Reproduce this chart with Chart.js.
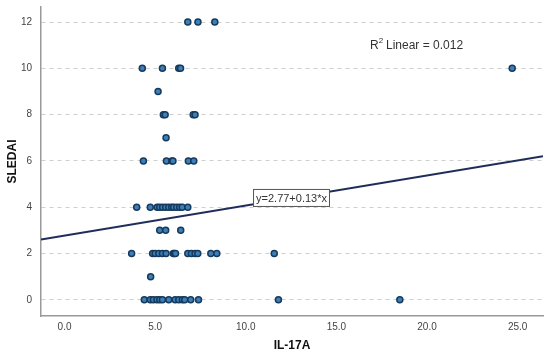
<!DOCTYPE html>
<html>
<head>
<meta charset="utf-8">
<script src="https://cdn.jsdelivr.net/npm/chart.js@4/dist/chart.umd.min.js"></script>
<style>
  html, body { margin: 0; padding: 0; background: #fff; }
  #wrap { width: 550px; height: 357px; position: relative; }
</style>
</head>
<body>
<div id="wrap"><canvas id="c"></canvas></div>
<script>
// IL-17A values grouped by SLEDAI score
const sledaiLevels = [12, 10, 9, 8, 7, 6, 4, 3, 2, 1, 0];
const il17aByLevel = [
  [6.8, 7.36, 8.29],
  [4.29, 5.4, 6.3, 6.4, 24.7],
  [5.16],
  [5.45, 5.55, 7.1, 7.2],
  [5.6],
  [4.35, 5.62, 5.92, 5.98, 6.83, 7.13],
  [3.98, 4.73, 5.11, 5.25, 5.41, 5.58, 5.75, 5.91, 6.02, 6.19, 6.35, 6.49, 6.8],
  [5.25, 5.58, 6.41],
  [3.7, 4.86, 5.0, 5.2, 5.4, 5.6, 6.0, 6.05, 6.12, 6.8, 7.0, 7.2, 7.35, 8.07, 8.4, 11.57],
  [4.75],
  [4.4, 4.73, 4.9, 5.1, 5.25, 5.4, 5.75, 6.1, 6.3, 6.5, 6.63, 6.96, 7.39, 11.8, 18.5]
];
const xTicks = [0, 5, 10, 15, 20, 25];
const yTicks = [0, 2, 4, 6, 8, 10, 12];
const xRange = [-1.3, 26.4];
const yRange = [-0.7, 12.65];
const fitIntercept = 2.77;
const fitSlope = 0.13;
const fitLabel = 'y=2.77+0.13*x';
const r2Value = '0.012';

const points = [];
sledaiLevels.forEach((lvl, i) => {
  il17aByLevel[i].forEach(v => points.push({ x: v, y: lvl }));
});
const fitLine = xRange.map(x => ({ x: x, y: fitIntercept + fitSlope * x }));

const annotations = {
  id: 'annotations',
  afterDatasetsDraw(chart) {
    const ctx = chart.ctx;
    const xs = chart.scales.x, ys = chart.scales.y;
    ctx.save();
    // equation label box
    ctx.font = '11px "Liberation Sans", Arial, sans-serif';
    const w = ctx.measureText(fitLabel).width + 5;
    const bx = xs.getPixelForValue(10.4);
    const by = ys.getPixelForValue(4.4);
    ctx.fillStyle = '#fff';
    ctx.fillRect(bx, by - 9, w, 18);
    ctx.strokeStyle = '#555';
    ctx.lineWidth = 1;
    ctx.strokeRect(bx + 0.5, by - 8.5, w, 17);
    ctx.fillStyle = '#333';
    ctx.textBaseline = 'middle';
    ctx.fillText(fitLabel, bx + 3, by + 1);
    // R squared
    const rx = 370, ry = 46;
    ctx.font = '12px "Liberation Sans", Arial, sans-serif';
    ctx.fillText('R', rx, ry);
    const rw = ctx.measureText('R').width;
    ctx.font = '8px "Liberation Sans", Arial, sans-serif';
    ctx.fillText('2', rx + rw, ry - 5);
    ctx.font = '12px "Liberation Sans", Arial, sans-serif';
    ctx.fillText(' Linear = ' + r2Value, rx + rw + 4, ry);
    ctx.restore();
  }
};

new Chart(document.getElementById('c'), {
  type: 'scatter',
  data: {
    datasets: [
      {
        type: 'line',
        data: fitLine,
        borderColor: '#1f2d5a',
        borderWidth: 2,
        pointRadius: 0,
        fill: false,
        order: 2
      },
      {
        data: points,
        backgroundColor: '#3d7fb8',
        borderColor: '#173a5c',
        borderWidth: 1.5,
        pointRadius: 3,
        order: 1
      }
    ]
  },
  options: {
    responsive: true,
    maintainAspectRatio: false,
    animation: false,
    layout: { padding: { top: 7, right: 7, left: 0, bottom: 0 } },
    plugins: { legend: { display: false }, tooltip: { enabled: false } },
    scales: {
      x: {
        type: 'linear',
        min: xRange[0],
        max: xRange[1],
        afterBuildTicks: s => { s.ticks = xTicks.map(v => ({ value: v })); },
        afterFit: s => { s.height = 41; s.paddingLeft = 0; s.paddingRight = 0; },
        grid: { display: false, drawTicks: false },
        border: { display: true, color: '#999', width: 1.5 },
        ticks: {
          padding: 5,
          color: '#444',
          font: { size: 10, family: '"Liberation Sans", Arial' },
          callback: v => Number(v).toFixed(1)
        },
        title: {
          display: true,
          text: 'IL-17A',
          color: '#111',
          font: { size: 12, weight: 'bold', family: '"Liberation Sans", Arial' },
          padding: { top: 6 }
        }
      },
      y: {
        type: 'linear',
        min: yRange[0],
        max: yRange[1],
        afterBuildTicks: s => { s.ticks = yTicks.map(v => ({ value: v })); },
        afterFit: s => { s.width = 41; s.paddingTop = 0; s.paddingBottom = 0; },
        grid: { color: '#cfcfcf', drawTicks: false, lineWidth: 1 },
        border: { display: true, color: '#999', width: 1.5, dash: [4, 4] },
        ticks: {
          padding: 9,
          color: '#444',
          font: { size: 10, family: '"Liberation Sans", Arial' }
        },
        title: {
          display: true,
          text: 'SLEDAI',
          color: '#111',
          font: { size: 12, weight: 'bold', family: '"Liberation Sans", Arial' },
          padding: { top: 5, bottom: 0 }
        }
      }
    }
  },
  plugins: [annotations]
});
</script>
</body>
</html>
